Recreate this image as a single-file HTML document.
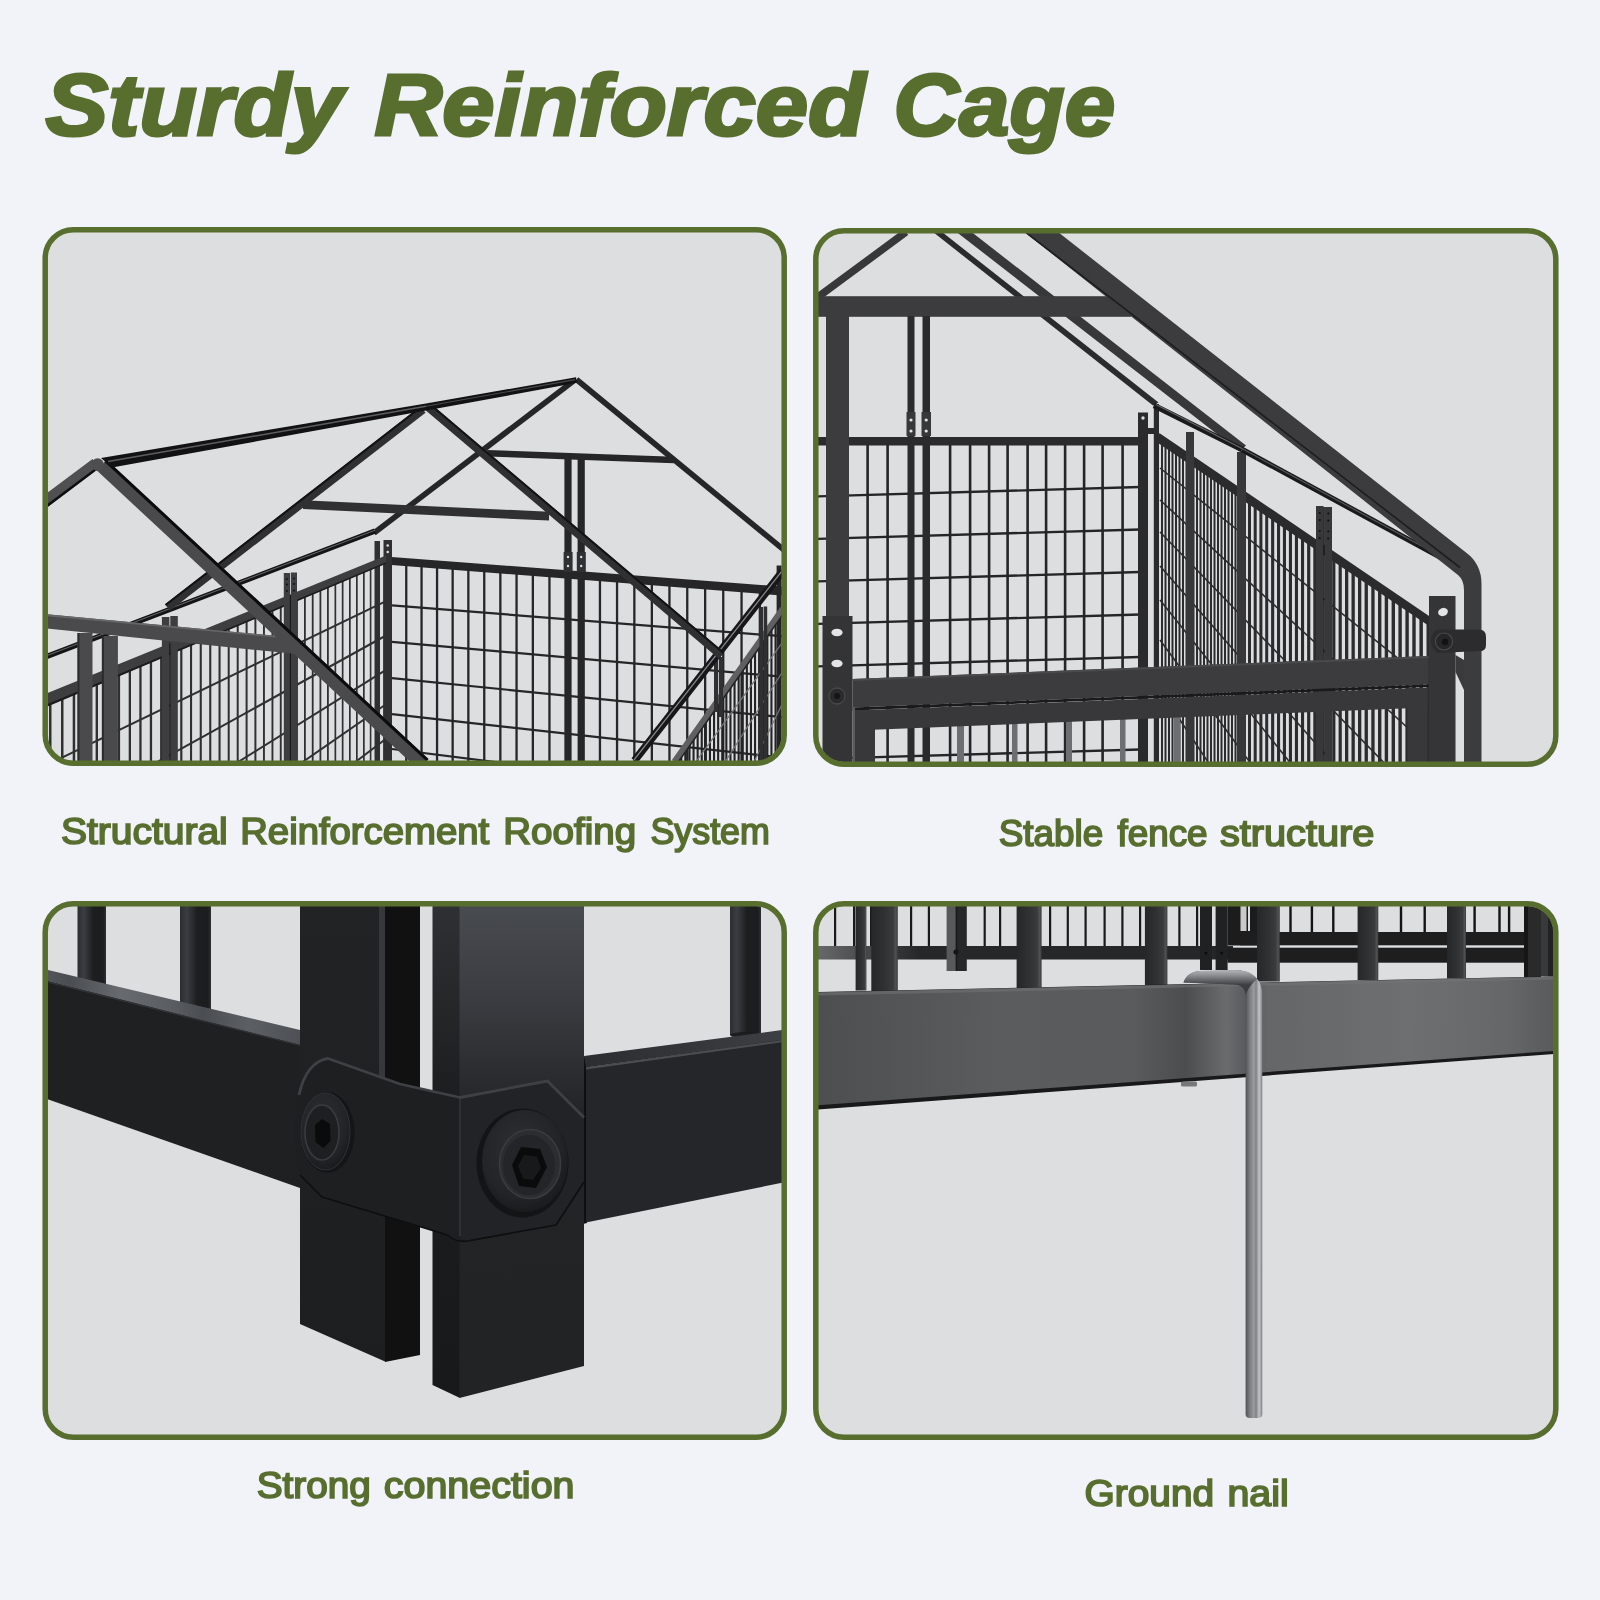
<!DOCTYPE html>
<html lang="en"><head><meta charset="utf-8"><title>Sturdy Reinforced Cage</title>
<style>html,body{margin:0;padding:0;background:#f1f3f8;}body{width:1600px;height:1600px;overflow:hidden}svg{display:block}text{font-family:"Liberation Sans",sans-serif;fill:#586e2f}</style>
</head><body>
<svg width="1600" height="1600" viewBox="0 0 1600 1600" style="will-change:transform">
<defs>
<clipPath id="cp1"><rect x="47.5" y="232" width="734.5" height="529" rx="26"/></clipPath>
<clipPath id="cp2"><rect x="818" y="233" width="735.5" height="529" rx="26"/></clipPath>
<clipPath id="cp3"><rect x="47.5" y="906" width="734.5" height="529" rx="26"/></clipPath>
<clipPath id="cp4"><rect x="818" y="906" width="735.5" height="529" rx="26"/></clipPath>
<linearGradient id="g4band" x1="813" x2="1558" y1="0" y2="0" gradientUnits="userSpaceOnUse"><stop offset="0" stop-color="#4d4e50"/><stop offset="0.25" stop-color="#5b5c5e"/><stop offset="0.43" stop-color="#5a5b5d"/><stop offset="0.5" stop-color="#4c4d4f"/><stop offset="0.555" stop-color="#6a6b6d"/><stop offset="0.585" stop-color="#57585a"/><stop offset="0.61" stop-color="#656668"/><stop offset="0.8" stop-color="#6e6f71"/><stop offset="0.93" stop-color="#666769"/><stop offset="1" stop-color="#58595b"/></linearGradient>
<linearGradient id="g4bar" x1="0" x2="1" y1="0" y2="0"><stop offset="0" stop-color="#262729"/><stop offset="0.5" stop-color="#303133"/><stop offset="0.82" stop-color="#3a3b3d"/><stop offset="0.92" stop-color="#505153"/><stop offset="1" stop-color="#3a3b3d"/></linearGradient>
<linearGradient id="g4rail" x1="813" x2="920" y1="0" y2="0" gradientUnits="userSpaceOnUse"><stop offset="0" stop-color="#6a6b6d"/><stop offset="0.5" stop-color="#48494b"/><stop offset="1" stop-color="#262728"/></linearGradient>
<linearGradient id="g4nail" x1="1245.5" x2="1262.5" y1="0" y2="0" gradientUnits="userSpaceOnUse"><stop offset="0" stop-color="#4e5053"/><stop offset="0.2" stop-color="#727477"/><stop offset="0.5" stop-color="#9b9d9f"/><stop offset="0.62" stop-color="#7e8083"/><stop offset="0.8" stop-color="#c4c5c7"/><stop offset="1" stop-color="#7a7c7f"/></linearGradient>
<linearGradient id="g4nailh" x1="0" x2="0" y1="970" y2="985" gradientUnits="userSpaceOnUse"><stop offset="0" stop-color="#b4b5b7"/><stop offset="0.35" stop-color="#8d8f92"/><stop offset="0.75" stop-color="#5a5c5f"/><stop offset="1" stop-color="#3c3d40"/></linearGradient>
<linearGradient id="g3bar" x1="0" x2="1" y1="0" y2="0"><stop offset="0" stop-color="#2b2d30"/><stop offset="0.22" stop-color="#3a3d42"/><stop offset="0.55" stop-color="#1d1e1f"/><stop offset="0.9" stop-color="#1c1d1e"/><stop offset="1" stop-color="#2e3033"/></linearGradient>
<linearGradient id="g3top" x1="0" x2="1" y1="0" y2="0"><stop offset="0" stop-color="#52565b"/><stop offset="0.1" stop-color="#4a4e53"/><stop offset="0.3" stop-color="#676b70"/><stop offset="0.5" stop-color="#5a5e63"/><stop offset="0.62" stop-color="#4a4e52"/><stop offset="0.8" stop-color="#5c6065"/><stop offset="1" stop-color="#4d5155"/></linearGradient>
<linearGradient id="g3topr" x1="0" x2="1" y1="0" y2="0"><stop offset="0" stop-color="#2b2d30"/><stop offset="1" stop-color="#3c3f43"/></linearGradient>
<linearGradient id="g3post" x1="0" x2="0" y1="906" y2="1400" gradientUnits="userSpaceOnUse"><stop offset="0" stop-color="#484b50"/><stop offset="0.2" stop-color="#393b40"/><stop offset="0.42" stop-color="#232426"/><stop offset="1" stop-color="#222325"/></linearGradient>
<linearGradient id="g3postl" x1="0" x2="0" y1="906" y2="1400" gradientUnits="userSpaceOnUse"><stop offset="0" stop-color="#2e3033"/><stop offset="0.4" stop-color="#1c1d1e"/><stop offset="1" stop-color="#18191a"/></linearGradient>
<linearGradient id="g3lp" x1="0" x2="0" y1="906" y2="1360" gradientUnits="userSpaceOnUse"><stop offset="0" stop-color="#222325"/><stop offset="1" stop-color="#1d1e1f"/></linearGradient>
<radialGradient id="g3bolt" cx="0.45" cy="0.4" r="0.65"><stop offset="0" stop-color="#2e3033"/><stop offset="0.7" stop-color="#232427"/><stop offset="1" stop-color="#17181a"/></radialGradient>
</defs>
<rect width="1600" height="1600" fill="#f1f3f8"/>
<rect x="43.5" y="228" width="742.5" height="537" rx="30" fill="#dddee0"/>
<rect x="814" y="229" width="743.5" height="537" rx="30" fill="#dddee0"/>
<rect x="43.5" y="902" width="742.5" height="537" rx="30" fill="#dddee0"/>
<rect x="814" y="902" width="743.5" height="537" rx="30" fill="#dddee0"/>
<g clip-path="url(#cp1)">
<rect x="405.1" y="564.2" width="2.3" height="205.8" fill="#262628"/>
<rect x="420.4" y="565.3" width="2.3" height="204.7" fill="#262628"/>
<rect x="435.9" y="566.3" width="2.3" height="203.7" fill="#262628"/>
<rect x="451.5" y="567.4" width="2.3" height="202.6" fill="#262628"/>
<rect x="467.2" y="568.5" width="2.3" height="201.5" fill="#262628"/>
<rect x="483.1" y="569.6" width="2.3" height="200.4" fill="#262628"/>
<rect x="499.2" y="570.8" width="2.3" height="199.2" fill="#262628"/>
<rect x="515.4" y="571.9" width="2.3" height="198.1" fill="#262628"/>
<rect x="531.7" y="573" width="2.3" height="197" fill="#262628"/>
<rect x="548.3" y="574.2" width="2.3" height="195.8" fill="#262628"/>
<rect x="564.9" y="575.4" width="2.3" height="194.6" fill="#262628"/>
<rect x="581.8" y="576.6" width="2.3" height="193.4" fill="#262628"/>
<rect x="598.8" y="577.7" width="2.3" height="192.3" fill="#262628"/>
<rect x="615.9" y="578.9" width="2.3" height="191.1" fill="#262628"/>
<rect x="633.2" y="580.2" width="2.3" height="189.8" fill="#262628"/>
<rect x="650.7" y="581.4" width="2.3" height="188.6" fill="#262628"/>
<rect x="668.3" y="582.6" width="2.3" height="187.4" fill="#262628"/>
<rect x="686.1" y="583.9" width="2.3" height="186.1" fill="#262628"/>
<rect x="704" y="585.1" width="2.3" height="184.9" fill="#262628"/>
<rect x="722.1" y="586.4" width="2.3" height="183.6" fill="#262628"/>
<rect x="740.4" y="587.7" width="2.3" height="182.3" fill="#262628"/>
<rect x="758.7" y="588.9" width="2.3" height="181.1" fill="#262628"/>
<rect x="777.3" y="590.2" width="2.3" height="179.8" fill="#262628"/>
<rect x="796" y="591.5" width="2.3" height="178.5" fill="#262628"/>
<line x1="392" y1="605.4" x2="782" y2="636.2" stroke="#262628" stroke-width="2.2" stroke-linecap="butt"/>
<line x1="392" y1="641.8" x2="782" y2="676.7" stroke="#262628" stroke-width="2.2" stroke-linecap="butt"/>
<line x1="392" y1="678.2" x2="782" y2="717.2" stroke="#262628" stroke-width="2.2" stroke-linecap="butt"/>
<line x1="392" y1="714.1" x2="782" y2="757.7" stroke="#262628" stroke-width="2.2" stroke-linecap="butt"/>
<line x1="392" y1="749" x2="782" y2="798.3" stroke="#262628" stroke-width="2.2" stroke-linecap="butt"/>
<polygon points="385,556.5 782,586.5 782,595.5 385,564.5" fill="#262628"/>
<rect x="374.5" y="541" width="5.5" height="230" fill="#303032"/>
<rect x="383.5" y="540" width="8.5" height="231" fill="#303032"/>
<circle cx="387.7" cy="545.5" r="1.3" fill="#dddee0"/><circle cx="387.7" cy="552" r="1.3" fill="#dddee0"/>
<rect x="776.6" y="565.5" width="5" height="210" fill="#262628"/>
<line x1="487" y1="453.2" x2="674" y2="460" stroke="#262628" stroke-width="6.4" stroke-linecap="butt"/>
<line x1="573.5" y1="381" x2="374" y2="533" stroke="#262628" stroke-width="5.6" stroke-linecap="butt"/>
<line x1="576.5" y1="379.5" x2="790" y2="555" stroke="#262628" stroke-width="5.6" stroke-linecap="butt"/>
<rect x="564.4" y="458" width="7.2" height="320" fill="#262628"/>
<rect x="577.6" y="458" width="7.2" height="320" fill="#262628"/>
<rect x="563.6" y="552" width="9" height="20" fill="#303032"/>
<rect x="576.8" y="552" width="9" height="20" fill="#303032"/>
<circle cx="568" cy="557" r="1.2" fill="#dddee0"/><circle cx="581.2" cy="557" r="1.2" fill="#dddee0"/>
<circle cx="568" cy="566" r="1.2" fill="#dddee0"/><circle cx="581.2" cy="566" r="1.2" fill="#dddee0"/>
<rect x="383.2" y="560.6" width="1.6" height="214.4" fill="#303032"/>
<rect x="376.6" y="563.3" width="1.6" height="211.7" fill="#303032"/>
<rect x="369.8" y="566.1" width="1.6" height="208.9" fill="#303032"/>
<rect x="363" y="568.9" width="1.7" height="206.1" fill="#303032"/>
<rect x="356" y="571.8" width="1.7" height="203.2" fill="#303032"/>
<rect x="349" y="574.7" width="1.7" height="200.3" fill="#303032"/>
<rect x="341.8" y="577.7" width="1.7" height="197.3" fill="#303032"/>
<rect x="334.5" y="580.7" width="1.7" height="194.3" fill="#303032"/>
<rect x="327" y="583.7" width="1.8" height="191.3" fill="#303032"/>
<rect x="319.5" y="586.8" width="1.8" height="188.2" fill="#303032"/>
<rect x="311.8" y="590" width="1.8" height="185" fill="#303032"/>
<rect x="304" y="593.2" width="1.8" height="181.8" fill="#303032"/>
<rect x="296.1" y="596.5" width="1.8" height="178.5" fill="#303032"/>
<rect x="288" y="599.8" width="1.9" height="175.2" fill="#303032"/>
<rect x="279.8" y="603.2" width="1.9" height="171.8" fill="#303032"/>
<rect x="271.5" y="606.6" width="1.9" height="168.4" fill="#303032"/>
<rect x="263" y="610.1" width="1.9" height="164.9" fill="#303032"/>
<rect x="254.4" y="613.6" width="2" height="161.4" fill="#303032"/>
<rect x="245.6" y="617.2" width="2" height="157.8" fill="#303032"/>
<rect x="236.7" y="620.9" width="2" height="154.1" fill="#303032"/>
<rect x="227.7" y="624.6" width="2" height="150.4" fill="#303032"/>
<rect x="218.5" y="628.4" width="2.1" height="146.6" fill="#303032"/>
<rect x="209.2" y="632.3" width="2.1" height="142.7" fill="#303032"/>
<rect x="199.7" y="636.2" width="2.1" height="138.8" fill="#303032"/>
<rect x="190" y="640.2" width="2.1" height="134.8" fill="#303032"/>
<rect x="180.2" y="644.2" width="2.2" height="130.8" fill="#303032"/>
<rect x="170.2" y="648.3" width="2.2" height="126.7" fill="#303032"/>
<rect x="160.1" y="652.5" width="2.2" height="122.5" fill="#303032"/>
<rect x="149.8" y="656.7" width="2.3" height="118.3" fill="#303032"/>
<rect x="139.3" y="661" width="2.3" height="114" fill="#303032"/>
<rect x="128.7" y="665.4" width="2.3" height="109.6" fill="#303032"/>
<rect x="117.8" y="669.9" width="2.3" height="105.1" fill="#303032"/>
<rect x="106.8" y="674.4" width="2.4" height="100.6" fill="#303032"/>
<rect x="95.6" y="679" width="2.4" height="96" fill="#303032"/>
<rect x="84.3" y="683.7" width="2.4" height="91.3" fill="#303032"/>
<rect x="72.7" y="688.5" width="2.5" height="86.5" fill="#303032"/>
<rect x="61" y="693.3" width="2.5" height="81.7" fill="#303032"/>
<rect x="49" y="698.2" width="2.5" height="76.8" fill="#303032"/>
<line x1="44" y1="766.3" x2="386" y2="601.1" stroke="#303032" stroke-width="2" stroke-linecap="butt"/>
<line x1="44" y1="824.6" x2="386" y2="635.5" stroke="#303032" stroke-width="2" stroke-linecap="butt"/>
<line x1="44" y1="882.9" x2="386" y2="669.9" stroke="#303032" stroke-width="2" stroke-linecap="butt"/>
<line x1="44" y1="941.2" x2="386" y2="704.3" stroke="#303032" stroke-width="2" stroke-linecap="butt"/>
<line x1="44" y1="999.5" x2="386" y2="738.7" stroke="#303032" stroke-width="2" stroke-linecap="butt"/>
<polygon points="44,694.5 386,555.5 386,563.5 44,707.5" fill="#3e3e40"/>
<polygon points="44,705.5 386,562.3 386,563.8 44,708" fill="#1c1c1e"/>
<rect x="161.9" y="617" width="7.5" height="160" fill="#3e3e40"/>
<rect x="170.3" y="616" width="7.5" height="161" fill="#3e3e40"/>
<rect x="169.2" y="640" width="1.3" height="140" fill="#1a1a1c"/>
<rect x="283.8" y="573" width="6.2" height="200" fill="#3e3e40"/>
<rect x="290.8" y="572.5" width="6.2" height="200" fill="#3e3e40"/>
<rect x="289.8" y="595" width="1.2" height="180" fill="#1a1a1c"/>
<circle cx="286.9" cy="579" r="1" fill="#111"/><circle cx="293.9" cy="578.6" r="1" fill="#111"/>
<circle cx="286.9" cy="584.5" r="1" fill="#111"/><circle cx="293.9" cy="584.1" r="1" fill="#111"/>
<circle cx="286.9" cy="591" r="1" fill="#111"/><circle cx="293.9" cy="590.6" r="1" fill="#111"/>
<line x1="375" y1="531" x2="44" y2="657.5" stroke="#151517" stroke-width="5.2" stroke-linecap="butt"/>
<line x1="375" y1="530.2" x2="44" y2="656.7" stroke="#6a6a6c" stroke-width="1" stroke-linecap="butt"/>
<clipPath id="cp1r"><polygon points="783,608.5 783,770 668,770"/></clipPath>
<g clip-path="url(#cp1r)">
<rect x="672" y="600" width="2.1" height="175" fill="#232325"/>
<rect x="676.1" y="600" width="2.1" height="175" fill="#232325"/>
<rect x="680.2" y="600" width="2.1" height="175" fill="#232325"/>
<rect x="684.3" y="600" width="2.1" height="175" fill="#232325"/>
<rect x="688.4" y="600" width="2.1" height="175" fill="#232325"/>
<rect x="692.5" y="600" width="2.1" height="175" fill="#232325"/>
<rect x="696.6" y="600" width="2.1" height="175" fill="#232325"/>
<rect x="700.7" y="600" width="2.1" height="175" fill="#232325"/>
<rect x="704.8" y="600" width="2.1" height="175" fill="#232325"/>
<rect x="708.9" y="600" width="2.1" height="175" fill="#232325"/>
<rect x="713" y="600" width="2.1" height="175" fill="#232325"/>
<rect x="717.1" y="600" width="2.1" height="175" fill="#232325"/>
<rect x="721.2" y="600" width="2.1" height="175" fill="#232325"/>
<rect x="725.3" y="600" width="2.1" height="175" fill="#232325"/>
<rect x="729.4" y="600" width="2.1" height="175" fill="#232325"/>
<rect x="733.5" y="600" width="2.1" height="175" fill="#232325"/>
<rect x="737.6" y="600" width="2.1" height="175" fill="#232325"/>
<rect x="741.7" y="600" width="2.1" height="175" fill="#232325"/>
<rect x="745.8" y="600" width="2.1" height="175" fill="#232325"/>
<rect x="749.9" y="600" width="2.1" height="175" fill="#232325"/>
<rect x="754" y="600" width="2.1" height="175" fill="#232325"/>
<rect x="758.1" y="600" width="2.1" height="175" fill="#232325"/>
<rect x="762.2" y="600" width="2.1" height="175" fill="#232325"/>
<rect x="766.3" y="600" width="2.1" height="175" fill="#232325"/>
<rect x="770.4" y="600" width="2.1" height="175" fill="#232325"/>
<rect x="774.5" y="600" width="2.1" height="175" fill="#232325"/>
<rect x="778.6" y="600" width="2.1" height="175" fill="#232325"/>
<rect x="782.7" y="600" width="2.1" height="175" fill="#232325"/>
<line x1="690" y1="770" x2="790" y2="632" stroke="#77777a" stroke-width="1.2" stroke-linecap="butt"/>
<line x1="720" y1="770" x2="790" y2="660" stroke="#77777a" stroke-width="1.2" stroke-linecap="butt"/>
<line x1="750" y1="770" x2="790" y2="688" stroke="#77777a" stroke-width="1.2" stroke-linecap="butt"/>
<line x1="780" y1="770" x2="790" y2="716" stroke="#77777a" stroke-width="1.2" stroke-linecap="butt"/>
</g>
<line x1="783" y1="609" x2="674.5" y2="762" stroke="#606062" stroke-width="6.5" stroke-linecap="butt"/>
<line x1="785" y1="611.5" x2="677.5" y2="763" stroke="#222224" stroke-width="1.5" stroke-linecap="butt"/>
<rect x="714" y="656" width="4.2" height="56" fill="#303032"/>
<rect x="719" y="657" width="4" height="60" fill="#303032"/>
<rect x="759.4" y="607" width="3.6" height="170" fill="#303032"/>
<rect x="763.6" y="606.5" width="3.6" height="170" fill="#303032"/>
<line x1="782.5" y1="571.4" x2="634.5" y2="760.6" stroke="#171719" stroke-width="7.6" stroke-linecap="butt"/>
<line x1="781.5" y1="571.6" x2="634" y2="759.8" stroke="#8a8a8c" stroke-width="1.3" stroke-linecap="butt"/>
<polygon points="303,500.2 549,511.8 549,520.6 303,509" fill="#303032"/>
<line x1="423" y1="409.5" x2="167.5" y2="607.5" stroke="#303032" stroke-width="8.2" stroke-linecap="butt"/>
<line x1="421.1" y1="407" x2="165.6" y2="605" stroke="#121214" stroke-width="2" stroke-linecap="butt"/>
<line x1="427" y1="406" x2="721.5" y2="655.5" stroke="#303032" stroke-width="8.2" stroke-linecap="butt"/>
<line x1="429" y1="403.6" x2="723.5" y2="653.1" stroke="#121214" stroke-width="2" stroke-linecap="butt"/>
<rect x="77.5" y="633" width="15" height="145" fill="#4a4a4c"/>
<rect x="101.9" y="636" width="16" height="142" fill="#4a4a4c"/>
<rect x="77.5" y="633" width="2" height="145" fill="#2c2c2e"/>
<rect x="101.9" y="636" width="2" height="142" fill="#2c2c2e"/>
<polygon points="44,614 286,636.8 302,654.6 44,628.2" fill="#4a4a4c"/>
<polygon points="44,614 286,636.8 287.5,638.5 44,616" fill="#666668"/>
<line x1="96" y1="463.5" x2="36" y2="508.5" stroke="#505052" stroke-width="11.5" stroke-linecap="butt"/>
<line x1="98.7" y1="467.1" x2="38.7" y2="512.1" stroke="#0e0e10" stroke-width="2.4" stroke-linecap="butt"/>
<line x1="101.6" y1="465" x2="423.5" y2="764.4" stroke="#4a4a4c" stroke-width="14.6" stroke-linecap="butt"/>
<line x1="105.6" y1="460.8" x2="427.5" y2="760.2" stroke="#0c0c0e" stroke-width="3" stroke-linecap="butt"/>
<circle cx="97.6" cy="464.6" r="6.3" fill="#4e4e50"/>
<polygon points="101,458 426,403.4 576,377.3 577,382.8 426,410.6 112,467.5" fill="#121214"/>
<line x1="108" y1="461.5" x2="426" y2="406.3" stroke="#5e5e60" stroke-width="1.5" stroke-linecap="butt"/>
<line x1="426" y1="406.3" x2="575" y2="379.6" stroke="#4a4a4c" stroke-width="1.1" stroke-linecap="butt"/>
</g>
<g clip-path="url(#cp2)">
<rect x="828.8" y="444" width="2.6" height="330" fill="#252527"/>
<rect x="866.3" y="444" width="2.6" height="330" fill="#252527"/>
<rect x="886.3" y="444" width="2.6" height="330" fill="#252527"/>
<rect x="948.8" y="444" width="2.6" height="330" fill="#252527"/>
<rect x="968.8" y="444" width="2.6" height="330" fill="#252527"/>
<rect x="987.8" y="444" width="2.6" height="330" fill="#252527"/>
<rect x="1006.3" y="444" width="2.6" height="330" fill="#252527"/>
<rect x="1026.3" y="444" width="2.6" height="330" fill="#252527"/>
<rect x="1044.8" y="444" width="2.6" height="330" fill="#252527"/>
<rect x="1063.8" y="444" width="2.6" height="330" fill="#252527"/>
<rect x="1082.8" y="444" width="2.6" height="330" fill="#252527"/>
<rect x="1101.3" y="444" width="2.6" height="330" fill="#252527"/>
<rect x="1121.3" y="444" width="2.6" height="330" fill="#252527"/>
<line x1="813" y1="496.5" x2="1140" y2="487" stroke="#252527" stroke-width="2.4" stroke-linecap="butt"/>
<line x1="813" y1="539" x2="1140" y2="529.5" stroke="#252527" stroke-width="2.4" stroke-linecap="butt"/>
<line x1="813" y1="581.5" x2="1140" y2="572" stroke="#252527" stroke-width="2.4" stroke-linecap="butt"/>
<line x1="813" y1="624" x2="1140" y2="614.5" stroke="#252527" stroke-width="2.4" stroke-linecap="butt"/>
<line x1="813" y1="666.5" x2="1140" y2="657" stroke="#252527" stroke-width="2.4" stroke-linecap="butt"/>
<line x1="813" y1="759" x2="1140" y2="749.5" stroke="#252527" stroke-width="2.4" stroke-linecap="butt"/>
<rect x="813" y="437" width="335" height="8.5" fill="#2b2b2d"/>
<rect x="1138" y="412.5" width="10" height="360" fill="#2b2b2d"/>
<circle cx="1143" cy="418" r="1.7" fill="#dddee0"/>
<rect x="1148" y="428" width="8" height="6" fill="#2b2b2d"/>
<clipPath id="cp2s"><polygon points="1153,400 1153,770 1432,770 1432,623 1159,440"/></clipPath>
<g clip-path="url(#cp2s)">
<rect x="1161" y="430" width="2" height="345" fill="#2c2c2e"/>
<rect x="1164.5" y="430" width="2" height="345" fill="#2c2c2e"/>
<rect x="1168" y="430" width="2" height="345" fill="#2c2c2e"/>
<rect x="1171.5" y="430" width="2" height="345" fill="#2c2c2e"/>
<rect x="1175" y="430" width="2" height="345" fill="#2c2c2e"/>
<rect x="1178.5" y="430" width="2" height="345" fill="#2c2c2e"/>
<rect x="1182" y="430" width="2" height="345" fill="#2c2c2e"/>
<rect x="1185.5" y="430" width="2" height="345" fill="#2c2c2e"/>
<rect x="1189" y="430" width="2" height="345" fill="#2c2c2e"/>
<rect x="1192.5" y="430" width="2" height="345" fill="#2c2c2e"/>
<rect x="1196" y="430" width="2" height="345" fill="#2c2c2e"/>
<rect x="1199.5" y="430" width="2" height="345" fill="#2c2c2e"/>
<rect x="1203" y="430" width="2" height="345" fill="#2c2c2e"/>
<rect x="1206.5" y="430" width="2" height="345" fill="#2c2c2e"/>
<rect x="1210" y="430" width="2" height="345" fill="#2c2c2e"/>
<rect x="1213.5" y="430" width="2" height="345" fill="#2c2c2e"/>
<rect x="1217" y="430" width="2" height="345" fill="#2c2c2e"/>
<rect x="1220.5" y="430" width="2" height="345" fill="#2c2c2e"/>
<rect x="1224" y="430" width="2" height="345" fill="#2c2c2e"/>
<rect x="1227.5" y="430" width="2" height="345" fill="#2c2c2e"/>
<rect x="1231" y="430" width="2" height="345" fill="#2c2c2e"/>
<rect x="1234.5" y="430" width="2" height="345" fill="#2c2c2e"/>
<rect x="1248" y="430" width="3" height="345" fill="#2c2c2e"/>
<rect x="1253.7" y="430" width="3" height="345" fill="#2c2c2e"/>
<rect x="1259.4" y="430" width="3" height="345" fill="#2c2c2e"/>
<rect x="1265.2" y="430" width="3" height="345" fill="#2c2c2e"/>
<rect x="1271.1" y="430" width="3.1" height="345" fill="#2c2c2e"/>
<rect x="1277" y="430" width="3.1" height="345" fill="#2c2c2e"/>
<rect x="1282.9" y="430" width="3.1" height="345" fill="#2c2c2e"/>
<rect x="1288.9" y="430" width="3.1" height="345" fill="#2c2c2e"/>
<rect x="1294.9" y="430" width="3.1" height="345" fill="#2c2c2e"/>
<rect x="1301" y="430" width="3.1" height="345" fill="#2c2c2e"/>
<rect x="1307.1" y="430" width="3.2" height="345" fill="#2c2c2e"/>
<rect x="1313.3" y="430" width="3.2" height="345" fill="#2c2c2e"/>
<rect x="1319.6" y="430" width="3.2" height="345" fill="#2c2c2e"/>
<rect x="1325.8" y="430" width="3.2" height="345" fill="#2c2c2e"/>
<rect x="1332.2" y="430" width="3.2" height="345" fill="#2c2c2e"/>
<rect x="1338.6" y="430" width="3.2" height="345" fill="#2c2c2e"/>
<rect x="1345" y="430" width="3.3" height="345" fill="#2c2c2e"/>
<rect x="1351.5" y="430" width="3.3" height="345" fill="#2c2c2e"/>
<rect x="1358" y="430" width="3.3" height="345" fill="#2c2c2e"/>
<rect x="1364.6" y="430" width="3.3" height="345" fill="#2c2c2e"/>
<rect x="1371.3" y="430" width="3.3" height="345" fill="#2c2c2e"/>
<rect x="1378" y="430" width="3.4" height="345" fill="#2c2c2e"/>
<rect x="1384.7" y="430" width="3.4" height="345" fill="#2c2c2e"/>
<rect x="1391.6" y="430" width="3.4" height="345" fill="#2c2c2e"/>
<rect x="1398.4" y="430" width="3.4" height="345" fill="#2c2c2e"/>
<rect x="1405.4" y="430" width="3.4" height="345" fill="#2c2c2e"/>
<rect x="1412.3" y="430" width="3.4" height="345" fill="#2c2c2e"/>
<rect x="1419.4" y="430" width="3.5" height="345" fill="#2c2c2e"/>
<rect x="1426.5" y="430" width="3.5" height="345" fill="#2c2c2e"/>
<line x1="1160" y1="468" x2="1440" y2="692" stroke="#2c2c2e" stroke-width="1.6" stroke-linecap="butt"/>
<line x1="1160" y1="500" x2="1440" y2="757.6" stroke="#2c2c2e" stroke-width="1.6" stroke-linecap="butt"/>
<line x1="1160" y1="532" x2="1440" y2="820.4" stroke="#2c2c2e" stroke-width="1.6" stroke-linecap="butt"/>
<line x1="1160" y1="566" x2="1440" y2="885.2" stroke="#2c2c2e" stroke-width="1.6" stroke-linecap="butt"/>
<line x1="1160" y1="600" x2="1440" y2="950" stroke="#2c2c2e" stroke-width="1.6" stroke-linecap="butt"/>
<line x1="1160" y1="640" x2="1440" y2="1020.8" stroke="#2c2c2e" stroke-width="1.6" stroke-linecap="butt"/>
<line x1="1160" y1="690" x2="1440" y2="1110" stroke="#2c2c2e" stroke-width="1.6" stroke-linecap="butt"/>
</g>
<polygon points="1155,433 1160,433.5 1432,618 1432,628 1155,441" fill="#2b2b2d"/>
<rect x="1153.8" y="404" width="5.2" height="370" fill="#2b2b2d"/>
<rect x="1186" y="432" width="8" height="340" fill="#38383a"/>
<rect x="1237" y="452" width="9" height="320" fill="#38383a"/>
<rect x="1316" y="506" width="7.5" height="270" fill="#38383a"/>
<rect x="1324.5" y="507" width="7.5" height="270" fill="#38383a"/>
<rect x="1323.2" y="507" width="1.5" height="270" fill="#1c1c1d"/>
<circle cx="1319.7" cy="513" r="1.1" fill="#111"/><circle cx="1328.3" cy="513.5" r="1.1" fill="#111"/>
<circle cx="1319.7" cy="520" r="1.1" fill="#111"/><circle cx="1328.3" cy="520.5" r="1.1" fill="#111"/>
<circle cx="1319.7" cy="531" r="1.1" fill="#111"/><circle cx="1328.3" cy="531.5" r="1.1" fill="#111"/>
<circle cx="1319.7" cy="538" r="1.1" fill="#111"/><circle cx="1328.3" cy="538.5" r="1.1" fill="#111"/>
<line x1="818" y1="297" x2="906" y2="232" stroke="#38383a" stroke-width="7.5" stroke-linecap="butt"/>
<polygon points="933,232 942,232 1158.5,402.5 1153,405.5" fill="#2b2b2d"/>
<polygon points="956.5,232 971.5,232 1246,445.5 1239.5,451.5" fill="#38383a"/>
<line x1="1154" y1="405.5" x2="1242" y2="449.5" stroke="#1a1a1c" stroke-width="5.6" stroke-linecap="butt"/>
<line x1="1242" y1="449.5" x2="1468" y2="572" stroke="#1a1a1c" stroke-width="5.6" stroke-linecap="butt"/>
<line x1="1156" y1="404.5" x2="1242" y2="448.5" stroke="#6a6a6c" stroke-width="1.1" stroke-linecap="butt"/>
<line x1="1242" y1="448.5" x2="1466" y2="570" stroke="#5a5a5c" stroke-width="1.1" stroke-linecap="butt"/>
<rect x="813" y="296.2" width="318" height="20.6" fill="#3c3c3e"/>
<path d="M1024.4,232 L1058,232 L1466,552.5 Q1481.5,564 1481.5,584 L1481.5,775 L1464,775 L1464,590 Q1464,580 1458,575 Z" fill="#3c3c3e" stroke="none" stroke-width="0"/>
<line x1="1026" y1="232.5" x2="1460" y2="567.5" stroke="#1e1e20" stroke-width="1.6" stroke-linecap="butt"/>
<rect x="826" y="316" width="23" height="302" fill="#3c3c3e"/>
<rect x="822.5" y="616" width="30" height="160" fill="#343436"/>
<ellipse cx="837" cy="632.5" rx="5.6" ry="3.8" fill="#e3e4e6"/><ellipse cx="837" cy="663.5" rx="5.6" ry="3.8" fill="#e3e4e6"/>
<circle cx="837" cy="696" r="8" fill="#2a2a2c" stroke="#48484b" stroke-width="1.3"/><circle cx="837" cy="696" r="3" fill="#151516"/>
<rect x="907.5" y="316" width="7" height="460" fill="#2b2b2d"/>
<rect x="922.5" y="316" width="7.5" height="460" fill="#2b2b2d"/>
<rect x="906.5" y="412" width="9" height="24" fill="#38383a"/>
<rect x="921.5" y="412" width="9.5" height="24" fill="#38383a"/>
<circle cx="911" cy="420" r="1.6" fill="#e3e4e6"/><circle cx="926.2" cy="420" r="1.6" fill="#e3e4e6"/>
<circle cx="911" cy="431" r="1.6" fill="#e3e4e6"/><circle cx="926.2" cy="431" r="1.6" fill="#e3e4e6"/>
<rect x="957" y="715" width="7" height="60" fill="#6c6e72"/>
<rect x="1012" y="715" width="5.5" height="60" fill="#6c6e72"/>
<rect x="1066" y="715" width="6" height="60" fill="#6c6e72"/>
<rect x="1120" y="715" width="5.5" height="60" fill="#6c6e72"/>
<rect x="1174" y="715" width="6" height="60" fill="#6c6e72"/>
<polygon points="852.5,679 1428.5,656 1428.5,684.5 852.5,707.5" fill="#3c3c3e"/>
<polygon points="852.5,679 1428.5,656 1428.5,658 852.5,681" fill="#4a4a4d"/>
<polygon points="852.5,707.5 1428.5,684.5 1428.5,687 852.5,710.5" fill="#1a1a1b"/>
<polygon points="854,710.5 1427.5,687.5 1427.5,707.5 854,730.5" fill="#38383a"/>
<rect x="854" y="710" width="21" height="66" fill="#38383a"/>
<rect x="852.5" y="707" width="2.5" height="70" fill="#5a5a5d"/>
<rect x="1407.5" y="688" width="20" height="90" fill="#38383a"/>
<rect x="1429" y="596" width="26.5" height="180" fill="#353537"/>
<ellipse cx="1443" cy="612" rx="5" ry="4" fill="#e3e4e6" transform="rotate(-20 1443 612)"/>
<polygon points="1455.5,655 1464,660 1464,690 1455.5,672" fill="#3a3a3c"/>
<path d="M1437,629.5 L1480,629.5 Q1486,630 1486,637 L1486,645 Q1486,651 1480,651 L1437,653 Q1431,647 1431,641 Q1431,634 1437,629.5 Z" fill="#2c2c2e" stroke="none" stroke-width="0"/>
<circle cx="1444" cy="641.5" r="8.5" fill="#262628" stroke="#4a4a4d" stroke-width="1.2"/><circle cx="1445" cy="642" r="3.2" fill="#121213"/>
</g>
<g clip-path="url(#cp3)">
<rect x="77.5" y="900" width="28.5" height="84" fill="url(#g3bar)"/>
<ellipse cx="91.7" cy="984" rx="14.2" ry="3" fill="#1c1d1e"/>
<rect x="180" y="900" width="31" height="109" fill="url(#g3bar)"/>
<ellipse cx="195.5" cy="1009" rx="15.5" ry="3" fill="#1c1d1e"/>
<rect x="730" y="900" width="31" height="135" fill="url(#g3bar)"/>
<ellipse cx="745.5" cy="1035" rx="15.5" ry="3" fill="#1c1d1e"/>
<polygon points="44,969 300,1030 300,1044.5 44,980" fill="url(#g3top)"/>
<polygon points="44,980 300,1044.5 300,1188 44,1098" fill="#1f2021"/>
<line x1="44" y1="980.8" x2="300" y2="1045.3" stroke="#303235" stroke-width="1.6" stroke-linecap="butt"/>
<polygon points="583,1057 587,1056.5 587,1223 583,1224" fill="#0f0f10"/>
<polygon points="584,1056 786,1029.5 786,1040 586,1067.5" fill="url(#g3topr)"/>
<polygon points="586,1067.5 786,1039.5 786,1182 586,1222.5" fill="#242629"/>
<line x1="586" y1="1068.6" x2="786" y2="1040.6" stroke="#4a4d52" stroke-width="2" stroke-linecap="butt"/>
<polygon points="300,900 385,900 385,1361.5 300,1324" fill="url(#g3lp)"/>
<polygon points="385,900 420,900 420,1355 385,1362" fill="#111112"/>
<rect x="379" y="900" width="6" height="200" fill="#36383c"/>
<polygon points="432.5,900 460,900 460,1398 432.5,1385" fill="url(#g3postl)"/>
<polygon points="459.5,900 584,900 584,1366 459.5,1398" fill="url(#g3post)"/>
<path d="M295,1128 C295,1090 310,1060 328,1058.5 L400,1084 L460,1097.5 L547.5,1081 L584,1117.5 L584,1182 L556,1225 L467.5,1241 Q455,1242.5 447.5,1235 L322,1197 L300,1175 Q295,1150 295,1128 Z" fill="#1e1f20" stroke="none" stroke-width="0"/>
<path d="M460,1097.5 L547.5,1081 L584,1117.5 L584,1182 L556,1225 L467.5,1241 Q460,1241 460,1232 Z" fill="#222326" stroke="none" stroke-width="0"/>
<path d="M299,1095 C304,1072 315,1060 328,1058.5 L400,1084 L460,1097.5 L547.5,1081 L584,1117.5" fill="none" stroke="#3e4044" stroke-width="2.8" stroke-linejoin="round"/>
<path d="M460,1099 L460,1236" fill="none" stroke="#2e3033" stroke-width="2"/>
<path d="M584,1182 L556,1225 L467.5,1241 Q455,1242.5 447.5,1235 L322,1197 L300,1175" fill="none" stroke="#0e0f10" stroke-width="1.6" stroke-linejoin="round"/>
<ellipse cx="327.5" cy="1132.5" rx="27" ry="40.5" fill="#141516"/>
<ellipse cx="325.5" cy="1131.5" rx="24.5" ry="38.5" fill="url(#g3bolt)" stroke="#303236" stroke-width="1"/>
<ellipse cx="322" cy="1132.5" rx="17" ry="27.5" fill="#1e1f21" stroke="#393b3f" stroke-width="1.6"/>
<polygon points="322,1119 330,1124 330.5,1141 323.5,1148 315.5,1142 315,1125" fill="#0b0b0c"/>
<ellipse cx="522.5" cy="1163" rx="46" ry="54.5" fill="#131415"/>
<ellipse cx="525" cy="1161" rx="43" ry="51" fill="url(#g3bolt)"/>
<ellipse cx="530" cy="1164" rx="30.5" ry="34.5" fill="#2b2d30" stroke="#3a3c40" stroke-width="1.5"/>
<ellipse cx="529" cy="1165" rx="26" ry="30" fill="#242528"/>
<polygon points="521,1147 540,1149 547,1167 536,1188 519,1186 512,1165" fill="#0b0b0c"/>
<polygon points="524,1155 537,1156.5 541,1168 533,1180 523,1178.5 518,1166" fill="#18191a"/>
</g>
<g clip-path="url(#cp4)">
<rect x="834" y="900" width="2.2" height="47" fill="#1a1a1b"/>
<rect x="853" y="900" width="2.2" height="47" fill="#1a1a1b"/>
<rect x="870" y="900" width="2.2" height="47" fill="#1a1a1b"/>
<rect x="892" y="900" width="2.2" height="47" fill="#1a1a1b"/>
<rect x="910" y="900" width="2.2" height="47" fill="#1a1a1b"/>
<rect x="927.8" y="900" width="2.2" height="47" fill="#1a1a1b"/>
<rect x="983.6" y="900" width="2.2" height="47" fill="#1a1a1b"/>
<rect x="999" y="900" width="2.2" height="47" fill="#1a1a1b"/>
<rect x="1049" y="900" width="2.2" height="47" fill="#1a1a1b"/>
<rect x="1066.7" y="900" width="2.2" height="47" fill="#1a1a1b"/>
<rect x="1084.5" y="900" width="2.2" height="47" fill="#1a1a1b"/>
<rect x="1103.5" y="900" width="2.2" height="47" fill="#1a1a1b"/>
<rect x="1121.3" y="900" width="2.2" height="47" fill="#1a1a1b"/>
<rect x="1139" y="900" width="2.2" height="47" fill="#1a1a1b"/>
<rect x="1178.3" y="900" width="2.2" height="47" fill="#1a1a1b"/>
<rect x="1196" y="900" width="2.2" height="47" fill="#1a1a1b"/>
<rect x="1289.3" y="900" width="2.4" height="33" fill="#141415"/>
<rect x="1310.7" y="900" width="2.4" height="33" fill="#141415"/>
<rect x="1332.1" y="900" width="2.4" height="33" fill="#141415"/>
<rect x="1399.8" y="900" width="2.4" height="33" fill="#141415"/>
<rect x="1423.5" y="900" width="2.4" height="33" fill="#141415"/>
<rect x="1473.4" y="900" width="2.4" height="33" fill="#141415"/>
<rect x="1498.3" y="900" width="2.4" height="33" fill="#141415"/>
<rect x="1507.9" y="900" width="2.4" height="33" fill="#141415"/>
<rect x="813" y="946" width="420" height="13.5" fill="url(#g4rail)"/>
<rect x="946.6" y="900" width="10" height="71" fill="#58595b"/>
<rect x="956.6" y="900" width="10.2" height="71" fill="#262728"/>
<rect x="955.6" y="900" width="1.6" height="71" fill="#1a1a1b"/>
<circle cx="956" cy="952" r="2.6" fill="#151516"/>
<rect x="1200" y="900" width="12" height="70" fill="#202122"/>
<rect x="1215.6" y="900" width="12" height="70" fill="#202122"/>
<circle cx="1206" cy="953" r="1.6" fill="#0d0d0e"/><circle cx="1221.6" cy="953" r="1.6" fill="#0d0d0e"/>
<rect x="1227.5" y="900" width="30" height="45.5" fill="#1c1c1d"/>
<rect x="1240.5" y="900" width="6" height="31" fill="#c9cacc"/>
<rect x="1248" y="900" width="2" height="31" fill="#dddee0"/>
<rect x="1240" y="932" width="288" height="13.3" fill="#1e1e1f"/>
<rect x="1227.5" y="947.7" width="300" height="15" fill="#1e1e1f"/>
<rect x="1524" y="900" width="5" height="77" fill="#161617"/>
<rect x="1528" y="900" width="13" height="77" fill="#2a2a2b"/>
<rect x="1541" y="900" width="7" height="76" fill="#38393a"/>
<rect x="1548" y="900" width="8" height="76" fill="#222"/>
<rect x="855.6" y="900" width="10.8" height="90.5" fill="url(#g4bar)"/>
<rect x="871.3" y="900" width="26.5" height="91" fill="url(#g4bar)"/>
<rect x="1016.6" y="900" width="25" height="88.5" fill="url(#g4bar)"/>
<rect x="1144.9" y="900" width="22.5" height="85.5" fill="url(#g4bar)"/>
<rect x="1257" y="900" width="22.8" height="81.5" fill="url(#g4bar)"/>
<rect x="1357.6" y="900" width="20.7" height="80" fill="url(#g4bar)"/>
<rect x="1447" y="900" width="19" height="78.5" fill="url(#g4bar)"/>
<polygon points="813,992.1 1558,976.2 1558,1053.6 813,1109.9" fill="#19191a"/>
<polygon points="813,992.6 1558,976.7 1558,1050.6 813,1105.6" fill="url(#g4band)"/>
<polygon points="813,992.3 1558,976.4 1558,979.4 813,995.6" fill="#737476" opacity="0.55"/>
<rect x="1181" y="1081.5" width="16" height="5" fill="#77787a" rx="1.5"/>
<path d="M1183.5,982.5 C1186,975.5 1192,971.3 1200,971 L1238,970.6 C1252,970.6 1262.3,980 1262.3,994 L1262.3,1414 Q1262.3,1418 1258.3,1418 L1249.6,1418 Q1245.6,1418 1245.6,1414 L1245.6,996 C1245.6,988.5 1241,984.6 1234,984.5 L1183.5,982.5 Z" fill="url(#g4nail)" stroke="none" stroke-width="0"/>
<path d="M1183.5,982.5 C1186,975.5 1192,971.3 1200,971 L1238,970.6 C1247,970.6 1253,974 1257,979 C1251,984 1247,990 1245.6,996 C1245.6,988.5 1241,984.6 1234,984.5 Z" fill="url(#g4nailh)" stroke="none" stroke-width="0"/>
</g>
<rect x="45.2" y="229.8" width="739" height="533.5" rx="28.2" fill="none" stroke="#586e2f" stroke-width="5.5"/>
<rect x="815.8" y="230.8" width="740" height="533.5" rx="28.2" fill="none" stroke="#586e2f" stroke-width="5.5"/>
<rect x="45.2" y="903.8" width="739" height="533.5" rx="28.2" fill="none" stroke="#586e2f" stroke-width="5.5"/>
<rect x="815.8" y="903.8" width="740" height="533.5" rx="28.2" fill="none" stroke="#586e2f" stroke-width="5.5"/>
<text y="135" font-size="88" font-weight="700" font-style="italic" stroke="#586e2f" stroke-width="3" stroke-linejoin="miter" stroke-miterlimit="2.5"><tspan x="45.5" textLength="297.6" lengthAdjust="spacingAndGlyphs">Sturdy</tspan> <tspan x="374.5" textLength="490.9" lengthAdjust="spacingAndGlyphs">Reinforced</tspan> <tspan x="893.5" textLength="221.6" lengthAdjust="spacingAndGlyphs">Cage</tspan></text>
<text y="844.4" font-size="36.5" font-weight="400" stroke="#586e2f" stroke-width="1.7" stroke-linejoin="miter" stroke-miterlimit="2.5"><tspan x="60.9" textLength="166.9" lengthAdjust="spacingAndGlyphs">Structural</tspan> <tspan x="240.2" textLength="249" lengthAdjust="spacingAndGlyphs">Reinforcement</tspan> <tspan x="503.3" textLength="132.8" lengthAdjust="spacingAndGlyphs">Roofing</tspan> <tspan x="650.4" textLength="119.5" lengthAdjust="spacingAndGlyphs">System</tspan></text>
<text y="846.2" font-size="36.5" font-weight="400" stroke="#586e2f" stroke-width="1.7" stroke-linejoin="miter" stroke-miterlimit="2.5"><tspan x="998.7" textLength="104.5" lengthAdjust="spacingAndGlyphs">Stable</tspan> <tspan x="1117.5" textLength="90" lengthAdjust="spacingAndGlyphs">fence</tspan> <tspan x="1220" textLength="154.3" lengthAdjust="spacingAndGlyphs">structure</tspan></text>
<text y="1497.6" font-size="36.5" font-weight="400" stroke="#586e2f" stroke-width="1.7" stroke-linejoin="miter" stroke-miterlimit="2.5"><tspan x="256.7" textLength="114.2" lengthAdjust="spacingAndGlyphs">Strong</tspan> <tspan x="383.8" textLength="190.7" lengthAdjust="spacingAndGlyphs">connection</tspan></text>
<text y="1506.2" font-size="36.5" font-weight="400" stroke="#586e2f" stroke-width="1.7" stroke-linejoin="miter" stroke-miterlimit="2.5"><tspan x="1084.6" textLength="129.5" lengthAdjust="spacingAndGlyphs">Ground</tspan> <tspan x="1227.4" textLength="61.3" lengthAdjust="spacingAndGlyphs">nail</tspan></text>
</svg>
</body></html>
